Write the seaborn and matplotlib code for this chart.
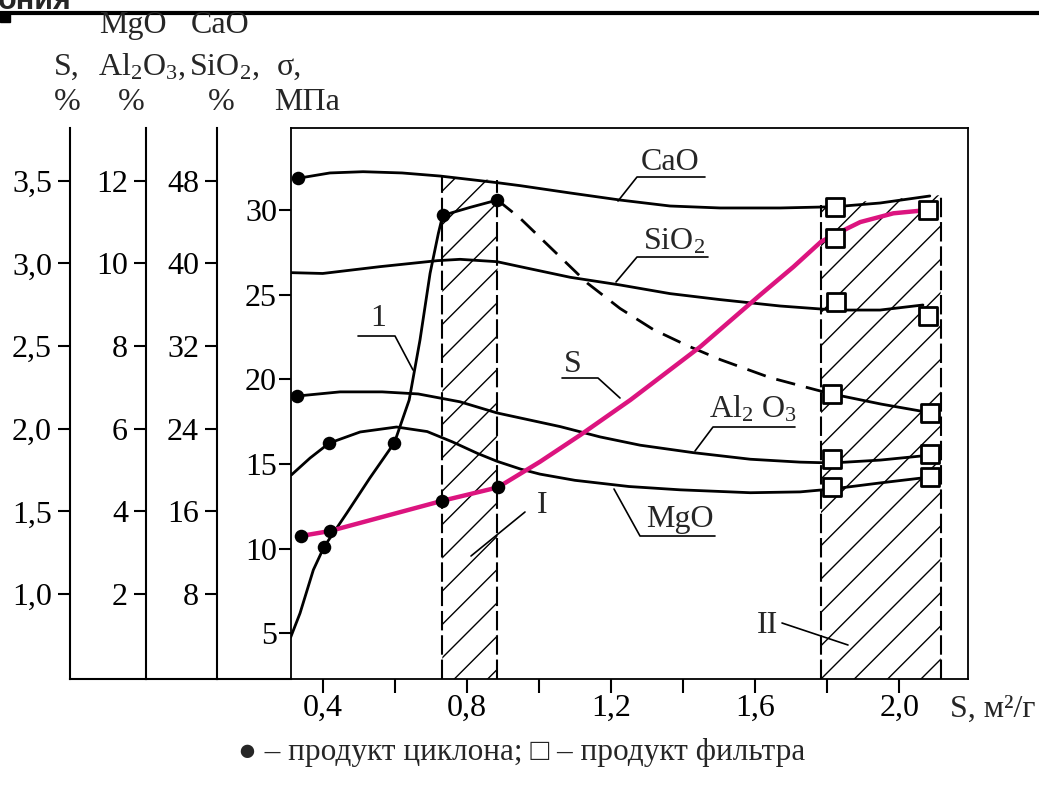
import matplotlib
matplotlib.use("Agg")
import matplotlib.pyplot as plt
import seaborn as sns
from matplotlib.lines import Line2D
from matplotlib.patches import Rectangle

# ---------------- values ----------------
# x: specific surface S, m2/g
# CaO, SiO2 in % (scale 8..48)
cao_x = [0.331, 0.42, 0.512, 0.62, 0.726, 0.884, 0.948, 1.087, 1.225, 1.364, 1.503, 1.67, 1.822, 1.947, 2.085]
cao_y = [48.23, 48.75, 48.87, 48.75, 48.45, 47.81, 47.52, 46.81, 46.13, 45.55, 45.36, 45.36, 45.48, 45.84, 46.52]
cao_dot_x, cao_dot_y = [0.331], [48.23]
cao_sq_x, cao_sq_y = [1.822], [45.48]

sio2_x = [0.312, 0.40, 0.559, 0.718, 0.781, 0.884, 0.948, 1.087, 1.225, 1.364, 1.503, 1.67, 1.822, 1.947, 2.066]
sio2_y = [39.10, 39.02, 39.68, 40.26, 40.39, 40.16, 39.68, 38.65, 37.91, 37.07, 36.49, 35.87, 35.48, 35.48, 35.97]
sio2_sq_x, sio2_sq_y = [1.825, 2.079], [36.29, 34.90]

# MgO, Al2O3 in % (scale 2..12)
al_x = [0.330, 0.448, 0.565, 0.665, 0.781, 0.884, 1.059, 1.170, 1.281, 1.428, 1.587, 1.725, 1.814, 1.948, 2.086]
al_y = [6.79, 6.89, 6.89, 6.84, 6.65, 6.38, 6.05, 5.80, 5.60, 5.42, 5.26, 5.19, 5.17, 5.24, 5.36]
al_dot_x, al_dot_y = [0.330], [6.79]
al_sq_x, al_sq_y = [1.813, 2.086], [5.27, 5.39]

mg_x = [0.313, 0.365, 0.418, 0.504, 0.605, 0.690, 0.760, 0.830, 0.884, 0.95, 1.003, 1.10, 1.25, 1.392, 1.587, 1.725, 1.814, 1.95, 2.086]
mg_y = [4.88, 5.29, 5.65, 5.92, 6.04, 5.93, 5.68, 5.40, 5.21, 5.02, 4.90, 4.75, 4.60, 4.52, 4.45, 4.47, 4.54, 4.69, 4.83]
mg_dot_x, mg_dot_y = [0.418], [5.65]
mg_sq_x, mg_sq_y = [1.814, 2.086], [4.58, 4.84]

# strength sigma, MPa (curve 1)
sig_x = [0.311, 0.337, 0.374, 0.404, 0.467, 0.531, 0.599, 0.640, 0.670, 0.698, 0.721, 0.733, 0.81, 0.885]
sig_y = [4.77, 6.19, 8.75, 10.12, 12.11, 14.18, 16.26, 18.78, 22.32, 26.26, 28.62, 29.68, 30.16, 30.59]
sig_dash_x = [0.885, 0.948, 1.039, 1.134, 1.225, 1.317, 1.411, 1.503, 1.642, 1.771, 1.813]
sig_dash_y = [30.59, 29.51, 27.64, 25.69, 24.19, 22.95, 22.00, 21.17, 20.10, 19.37, 19.14]
sig_end_x = [1.813, 1.95, 2.086]
sig_end_y = [19.14, 18.54, 18.03]
sig_dot_x, sig_dot_y = [0.404, 0.599, 0.733, 0.885], [10.12, 16.26, 29.68, 30.59]
sig_sq_x, sig_sq_y = [1.813, 2.086], [19.14, 18.03]

# sulfur S, %
s_x = [0.339, 0.420, 0.732, 0.886, 1.003, 1.115, 1.254, 1.327, 1.448, 1.614, 1.707, 1.783, 1.822, 1.892, 1.984, 2.079]
s_y = [1.351, 1.381, 1.564, 1.645, 1.80, 1.962, 2.174, 2.295, 2.496, 2.809, 2.980, 3.131, 3.175, 3.250, 3.303, 3.323]
s_dot_x, s_dot_y = [0.339, 0.420, 0.732, 0.886], [1.351, 1.381, 1.564, 1.645]
s_sq_x, s_sq_y = [1.822, 2.079], [3.155, 3.323]

# hatched zones I and II (x range, top in MPa)
zone1_x, zone1_top = [0.732, 0.885], [31.93, 31.76]
zone2_x, zone2_top = [1.783, 2.115], [30.30, 30.88]

# axis ticks
x_ticks = [0.4, 0.8, 1.2, 1.6, 2.0]
x_minor = [0.6, 1.0, 1.4, 1.8]
x_labels = ["0,4", "0,8", "1,2", "1,6", "2,0"]
sig_ticks = [5, 10, 15, 20, 25, 30]
s_ticks = [1.0, 1.5, 2.0, 2.5, 3.0, 3.5]
s_labels = ["1,0", "1,5", "2,0", "2,5", "3,0", "3,5"]
m_ticks = [2, 4, 6, 8, 10, 12]
c_ticks = [8, 16, 24, 32, 40, 48]

# ---------------- style ----------------
sns.set_theme(style="ticks")
plt.rcParams["font.family"] = ["Liberation Serif", "DejaVu Serif"]
plt.rcParams["mathtext.fontset"] = "custom"
plt.rcParams["mathtext.rm"] = "Liberation Serif"
plt.rcParams["mathtext.it"] = "Liberation Serif:italic"
plt.rcParams["hatch.linewidth"] = 1.0
plt.rcParams["lines.scale_dashes"] = False
plt.rcParams["axes.edgecolor"] = "black"

W, H = 1039, 785
FS = 23
MAGENTA = "#DC147F"
fig = plt.figure(figsize=(W / 100, H / 100), dpi=100)


def fx(x):
    return x / W


def fy(y):
    return 1 - y / H


def rect(l, t, r, b):
    return [fx(l), fy(b), (r - l) / W, (b - t) / H]


XLIM = (0.312, 2.191)
SIG_LIM = (2.31, 34.84)
C_LIM = (-0.23, 53.10)
M_LIM = (C_LIM[0] / 4, C_LIM[1] / 4)
S_LIM = (0.486, 3.819)

# main axes (sigma)
ax = fig.add_axes(rect(291, 128, 968, 679))
ax.patch.set_visible(False)
ax.set_xlim(*XLIM)
ax.set_ylim(*SIG_LIM)
for sp in ax.spines.values():
    sp.set_linewidth(1.3)
    sp.set_color("black")
ax.set_xticks(x_ticks)
ax.set_xticklabels(x_labels)
ax.set_xticks(x_minor, minor=True)
ax.set_yticks(sig_ticks)
ax.set_yticklabels([str(v) for v in sig_ticks])
ax.tick_params(axis="x", which="both", direction="out", length=10, width=1.5, pad=1,
               labelsize=FS, colors="black")
ax.tick_params(axis="y", direction="out", length=9, width=1.5, pad=1, labelsize=FS, colors="black")


def scale_axis(l, r, lim, ticks, labels):
    a = fig.add_axes(rect(l, 128, r, 679))
    a.patch.set_visible(False)
    a.set_ylim(*lim)
    a.set_xticks([])
    a.set_yticks(ticks)
    a.set_yticklabels(labels)
    for s in ["top", "right"]:
        a.spines[s].set_visible(False)
    for s in ["left", "bottom"]:
        a.spines[s].set_linewidth(1.5)
        a.spines[s].set_color("black")
    a.tick_params(axis="y", direction="out", length=9, width=1.5, pad=4, labelsize=FS, colors="black")
    return a


scale_axis(70, 146, S_LIM, s_ticks, s_labels)
scale_axis(146, 217, M_LIM, m_ticks, [str(v) for v in m_ticks])
scale_axis(217, 291, C_LIM, c_ticks, [str(v) for v in c_ticks])

# hatched zones
for zx, zt in [(zone1_x, zone1_top), (zone2_x, zone2_top)]:
    ax.fill_between(zx, [SIG_LIM[0]] * 2, zt, hatch="/", facecolor="none", edgecolor="black", linewidth=0)
    for xv, tv in zip(zx, zt):
        ax.plot([xv, xv], [SIG_LIM[0], tv], color="black", lw=1.5, linestyle=(0, (14, 3.5)))

# overlay axes for each scale
axC = ax.twinx()
axM = ax.twinx()
axS = ax.twinx()
for a, lim in [(axC, C_LIM), (axM, M_LIM), (axS, S_LIM)]:
    a.set_ylim(*lim)
    a.axis("off")

LW = 2.0
DOT = dict(marker="o", s=95, color="black", edgecolor="black", linewidth=0, zorder=5, legend=False)
SQ = dict(marker="s", s=150, facecolor="white", edgecolor="black", linewidth=2, zorder=6, legend=False)

line_kw = dict(color="black", lw=LW, sort=False, estimator=None, legend=False)

# sigma, curve 1
sns.lineplot(x=sig_x, y=sig_y, ax=ax, **line_kw)
sns.lineplot(x=sig_dash_x, y=sig_dash_y, ax=ax, linestyle=(0, (14, 8)), **line_kw)
sns.lineplot(x=sig_end_x, y=sig_end_y, ax=ax, **line_kw)
sns.scatterplot(x=sig_dot_x, y=sig_dot_y, ax=ax, **DOT)
sns.scatterplot(x=sig_sq_x, y=sig_sq_y, ax=ax, **SQ)

# CaO, SiO2
sns.lineplot(x=cao_x, y=cao_y, ax=axC, **line_kw)
sns.lineplot(x=sio2_x, y=sio2_y, ax=axC, **line_kw)
sns.scatterplot(x=cao_dot_x, y=cao_dot_y, ax=axC, **DOT)
sns.scatterplot(x=cao_sq_x, y=cao_sq_y, ax=axC, **SQ)
sns.scatterplot(x=sio2_sq_x, y=sio2_sq_y, ax=axC, **SQ)

# Al2O3, MgO
sns.lineplot(x=al_x, y=al_y, ax=axM, **line_kw)
sns.lineplot(x=mg_x, y=mg_y, ax=axM, **line_kw)
sns.scatterplot(x=al_dot_x, y=al_dot_y, ax=axM, **DOT)
sns.scatterplot(x=mg_dot_x, y=mg_dot_y, ax=axM, **DOT)
sns.scatterplot(x=al_sq_x, y=al_sq_y, ax=axM, **SQ)
sns.scatterplot(x=mg_sq_x, y=mg_sq_y, ax=axM, **SQ)

# S
sns.lineplot(x=s_x, y=s_y, ax=axS, color=MAGENTA, lw=3.2, sort=False, estimator=None, legend=False)
sns.scatterplot(x=s_dot_x, y=s_dot_y, ax=axS, **DOT)
sns.scatterplot(x=s_sq_x, y=s_sq_y, ax=axS, **SQ)


# ---------------- labels with leader lines (figure pixels) ----------------
def ftext(x, y, s, ha="center", **kw):
    fig.text(fx(x), fy(y), s, ha=ha, va="baseline", fontsize=kw.pop("fontsize", FS), **kw)


def leader(pts, lw=1.2):
    fig.add_artist(Line2D([fx(p[0]) for p in pts], [fy(p[1]) for p in pts],
                          color="black", lw=lw, transform=fig.transFigure))


ftext(670, 170, "CaO")
leader([(618, 201), (637, 177), (705, 177)])
ftext(674, 250, "SiO$_2$")
leader([(616, 282), (637, 257), (708, 257)])
ftext(378, 326, "1")
leader([(413, 370), (395, 336), (358, 336)])
ftext(573, 372, "S")
leader([(620, 398), (598, 378), (562, 378)])
ftext(753, 418, "Al$_2$ O$_3$")
leader([(695, 451), (713, 427), (795, 427)])
ftext(680, 527, "MgO")
leader([(614, 489), (640, 536), (715, 536)])
ftext(542, 513, "I")
leader([(471, 556), (525, 512)])
ftext(767, 633, "II")
leader([(782, 623), (848, 645)])

# axis headers
ftext(133, 33, "MgO")
ftext(220, 33, "CaO")
ftext(67, 75, "S,")
ftext(142, 75, "Al$_2$O$_3$,")
ftext(224, 75, "SiO$_2$,")
ftext(289, 75, "σ,")
ftext(67, 110, "%")
ftext(131, 110, "%")
ftext(221, 110, "%")
ftext(307, 110, "МПа")

ftext(993, 717, "S, м²/г")
ftext(522, 760, "● – продукт циклона; □ – продукт фильтра", fontsize=22.5)

# top border fragment of the page
fig.add_artist(Line2D([0, 1], [fy(13), fy(13)], color="black", lw=3, transform=fig.transFigure))
fig.add_artist(Rectangle((0, fy(22)), fx(10), 9 / H, color="black", transform=fig.transFigure))
fig.text(fx(-2), fy(9), "ония", ha="left", va="baseline", fontsize=22, fontweight="bold",
         family=["Liberation Sans", "DejaVu Sans"])

fig.savefig("out.png", dpi=100)
